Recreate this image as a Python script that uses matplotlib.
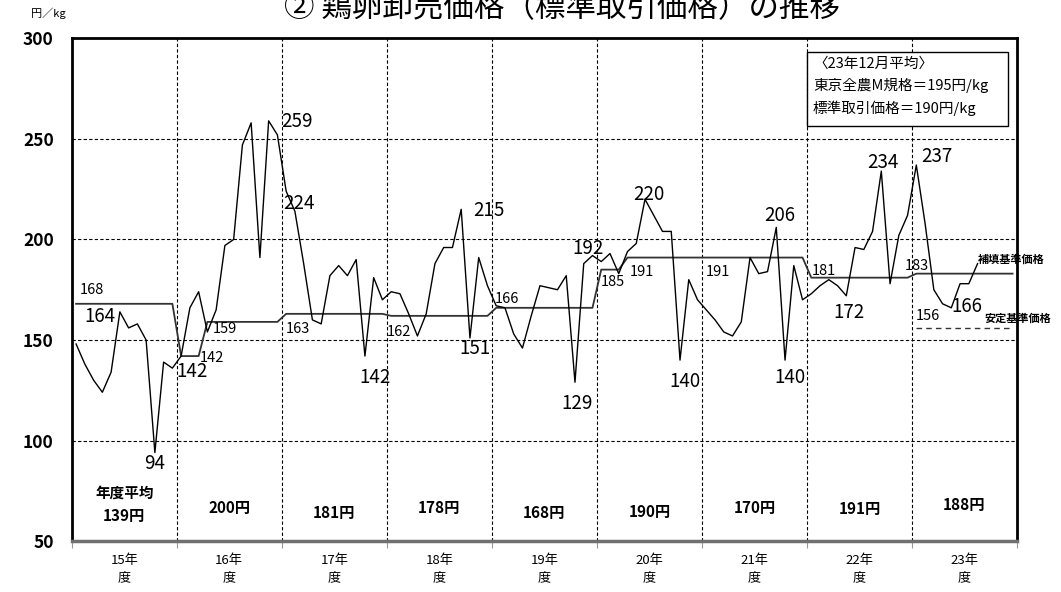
import numpy as np
import matplotlib
matplotlib.use('Agg')
import matplotlib.pyplot as plt
from matplotlib.patches import Rectangle

plt.rcParams['font.family'] = ['Noto Sans CJK JP', 'DejaVu Sans']

years = ['15年\n度', '16年\n度', '17年\n度', '18年\n度', '19年\n度',
         '20年\n度', '21年\n度', '22年\n度', '23年\n度']
annual_avg = [139, 200, 181, 178, 168, 190, 170, 191, 188]

# standard trading price, monthly Apr-Mar (yen/kg)
price = [
    148, 138, 130, 124, 134, 164, 156, 158, 150, 94, 139, 136,    # 15
    142, 166, 174, 154, 165, 197, 200, 247, 258, 191, 259, 252,   # 16
    224, 214, 188, 160, 158, 182, 187, 182, 190, 142, 181, 170,   # 17
    174, 173, 163, 152, 163, 188, 196, 196, 215, 151, 191, 177,   # 18
    167, 166, 153, 146, 162, 177, 176, 175, 182, 129, 188, 192,   # 19
    189, 193, 183, 194, 198, 220, 212, 204, 204, 140, 180, 170,   # 20
    165, 160, 154, 152, 159, 191, 183, 184, 206, 140, 187, 170,   # 21
    173, 177, 180, 177, 172, 196, 195, 204, 234, 178, 202, 212,   # 22
    237, 208, 175, 168, 166, 178, 178, 188,                       # 23 (to Nov)
]

# compensation reference price
ref_price = [
    168, 168, 168, 168, 168, 168, 168, 168, 168, 168, 168, 168,
    142, 142, 142, 159, 159, 159, 159, 159, 159, 159, 159, 159,
    163, 163, 163, 163, 163, 163, 163, 163, 163, 163, 163, 163,
    162, 162, 162, 162, 162, 162, 162, 162, 162, 162, 162, 162,
    166, 166, 166, 166, 166, 166, 166, 166, 166, 166, 166, 166,
    185, 185, 185, 191, 191, 191, 191, 191, 191, 191, 191, 191,
    191, 191, 191, 191, 191, 191, 191, 191, 191, 191, 191, 191,
    181, 181, 181, 181, 181, 181, 181, 181, 181, 181, 181, 181,
    183, 183, 183, 183, 183, 183, 183, 183, 183, 183, 183, 183,
]

# stability reference price (23年度 only)
stable_price = [156, 156, 156, 156, 156, 156, 156, 156, 156, 156, 156, 156]
stable_start = 96

# (index, x, y) for max/min labels on the price line
price_labels = [(5, 3.2, 161.6), (9, 9.5, 88.6), (12, 13.7, 134.2),
                (22, 25.7, 258.8), (24, 26.0, 218.0), (33, 34.7, 131.2),
                (44, 47.7, 214.2), (45, 46.1, 145.9), (57, 57.7, 118.5),
                (59, 59.0, 195.6), (65, 65.9, 222.5), (69, 70.1, 129.3),
                (80, 80.9, 211.7), (81, 82.1, 131.2), (88, 88.8, 163.6),
                (92, 92.7, 238.3), (96, 98.8, 241.2), (100, 102.3, 166.9)]
ref_labels = [(0, 2.3, 174.9), (12, 16.0, 140.9), (15, 17.5, 155.3),
              (24, 25.8, 155.5), (36, 37.4, 153.8), (48, 49.7, 170.4),
              (60, 61.8, 178.7), (63, 65.1, 183.7), (72, 73.8, 183.6),
              (84, 85.9, 184.5), (96, 96.6, 187.0)]
avg_y = [62.4, 66.4, 63.9, 66.4, 63.9, 64.4, 66.4, 65.9, 67.9]

fig = plt.figure(figsize=(10.61, 5.92), dpi=100)
ax = fig.add_axes([0.0676, 0.0861, 0.8909, 0.849])

n_months = len(years) * 12
ax.set_xlim(0, n_months)
ax.set_ylim(50, 300)

dash = (0, (3, 2))
for y in [100, 150, 200, 250]:
    ax.axhline(y, color='black', lw=0.8, ls=dash, zorder=1)
for b in range(12, n_months, 12):
    ax.axvline(b, color='black', lw=0.8, ls=dash, zorder=1)

x_price = np.arange(len(price)) + 0.5
x_ref = np.arange(len(ref_price)) + 0.5
x_stable = np.arange(stable_start, stable_start + len(stable_price)) + 0.5

ax.plot(x_ref, ref_price, color='#333333', lw=1.3, zorder=3)
ax.plot(x_stable, stable_price, color='#333333', lw=1.0, ls=(0, (4, 3)), zorder=3)
ax.plot(x_price, price, color='black', lw=1.0, zorder=4)

for i, x, y in price_labels:
    ax.text(x, y, str(price[i]), fontsize=13.5, ha='center', va='center', zorder=5)
for i, x, y in ref_labels:
    ax.text(x, y, str(ref_price[i]), fontsize=10.5, ha='center', va='center', zorder=5)
ax.text(97.8, 162.1, str(stable_price[0]), fontsize=10.5, ha='center', va='center', zorder=5)

ax.text(107.3, 190.0, '補填基準価格', fontsize=8, fontweight='bold',
        ha='center', va='center', clip_on=False, zorder=6)
ax.text(108.1, 160.8, '安定基準価格', fontsize=8, fontweight='bold',
        ha='center', va='center', clip_on=False, zorder=6)

# yearly averages along the bottom
ax.text(6, 73.9, '年度平均', fontsize=10.5, fontweight='bold', ha='center', va='center')
for k, (v, y) in enumerate(zip(annual_avg, avg_y)):
    ax.text(12 * k + 6, y, f'{v}円', fontsize=11, fontweight='bold',
            ha='center', va='center')

# December note box
ax.add_patch(Rectangle((84.0, 256.5), 23.0, 36.8, facecolor='white',
                       edgecolor='black', lw=1.0, zorder=6))
box_lines = ['〈23年12月平均〉', '東京全農M規格＝195円/kg', '標準取引価格＝190円/kg']
for line, y in zip(box_lines, [287.3, 276.4, 265.4]):
    ax.text(84.7, y, line, fontsize=10.5, ha='left', va='center', zorder=7)

for side in ['left', 'top', 'right']:
    ax.spines[side].set_linewidth(2.0)
    ax.spines[side].set_color('black')
ax.spines['bottom'].set_linewidth(2.5)
ax.spines['bottom'].set_color('#707070')

ax.set_yticks([50, 100, 150, 200, 250, 300])
ax.tick_params(axis='y', length=0, pad=13, labelsize=12.5)
for lab in ax.get_yticklabels():
    lab.set_fontweight('bold')

ax.set_xticks(range(0, n_months + 1, 12))
ax.set_xticklabels([])
ax.tick_params(axis='x', which='major', length=5, color='#999999', direction='out')
ax.set_xticks(np.arange(6, n_months, 12), minor=True)
ax.set_xticklabels(years, minor=True, fontsize=9.5, linespacing=1.5)
ax.tick_params(axis='x', which='minor', length=0, pad=9)

fig.text(0.53, 1 - 17 / 592, '② 鶏卵卸売価格（標準取引価格）の推移',
         fontsize=22, ha='center', va='baseline')
fig.text(48 / 1061, 1 - 13 / 592, '円／kg', fontsize=8, ha='center', va='center')

fig.savefig('out.png', dpi=100)
